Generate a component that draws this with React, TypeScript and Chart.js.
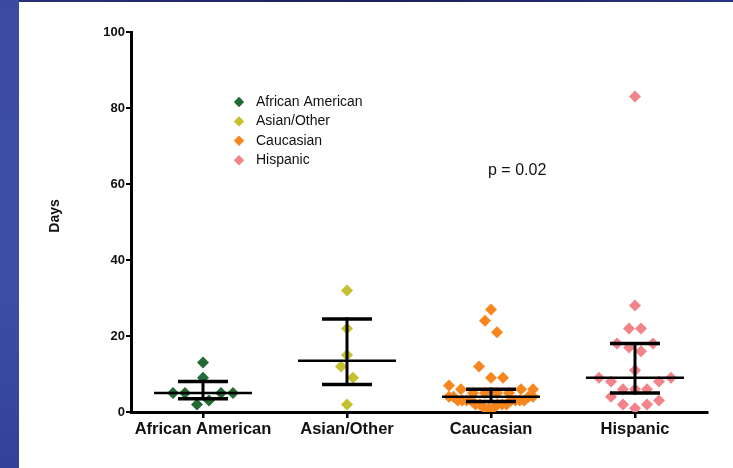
import { useEffect, useRef } from 'react';
import { Chart, registerables } from 'chart.js';

Chart.register(...registerables);

// ---------------- data ----------------
const categories = ['African American', 'Asian/Other', 'Caucasian', 'Hispanic'];

const africanAmerican = [13, 9, 2, 3, 5, 5, 5, 5];
const asianOther = [32, 22, 15, 12, 9, 2];
const caucasian = [
  27, 24, 21, 9, 12, 9, 5, 5, 5, 5, 6, 6, 7, 6,
  1, 1, 1, 2, 2, 2, 2, 2, 3, 3, 3, 3, 3, 3, 3, 3, 4, 4, 4, 4,
];
const hispanic = [83, 28, 22, 22, 17, 16, 18, 18, 11, 6, 6, 6, 8, 8, 9, 9, 1, 2, 2, 4, 3];

const yTickValues = [0, 20, 40, 60, 80, 100];
const yAxisTitle = 'Days';
const pValueText = 'p = 0.02';

const groups = [africanAmerican, asianOther, caucasian, hispanic];
const groupColors = ['#246a35', '#c4c02e', '#f7861f', '#f28489'];

// ---------------- styling / layout constants ----------------
const FONT = '"Liberation Sans", Arial, Helvetica, sans-serif';
const SLOT = 1 / 12; // horizontal symbol spacing in category units
const ROW_SPAN = 3.2; // vertical symbol height in days (row binning)
const MAX_SPREAD = 7; // max slots between outermost symbols in a row

function quantile(sorted: number[], p: number): number {
  const n = sorted.length;
  const pos = (n + 1) * p;
  const lo = Math.floor(pos);
  const frac = pos - lo;
  if (lo < 1) return sorted[0];
  if (lo >= n) return sorted[n - 1];
  return sorted[lo - 1] + frac * (sorted[lo] - sorted[lo - 1]);
}

// Prism-like column scatter: bin into rows, spread each row symmetrically
function swarmOffsets(values: number[]): number[] {
  const sorted = [...values].sort((a, b) => a - b);
  const rowStarts: number[] = [];
  let start = -Infinity;
  for (const v of sorted) {
    if (rowStarts.length === 0 || v >= start + ROW_SPAN) {
      start = v;
      rowStarts.push(v);
    }
  }
  const rows: number[][] = rowStarts.map(() => []);
  values.forEach((v, i) => {
    let r = 0;
    for (let k = 0; k < rowStarts.length; k++) if (v >= rowStarts[k]) r = k;
    rows[r].push(i);
  });
  const offsets = new Array(values.length).fill(0);
  rows.forEach((idx) => {
    const m = idx.length;
    const step = m > 1 ? Math.min(1, MAX_SPREAD / (m - 1)) : 1;
    idx.forEach((pi, k) => {
      let slot: number;
      if (m % 2 === 1) {
        slot = k === 0 ? 0 : Math.ceil(k / 2) * (k % 2 === 1 ? -1 : 1);
      } else {
        slot = (Math.floor(k / 2) + 0.5) * (k % 2 === 0 ? -1 : 1);
      }
      offsets[pi] = slot * step * SLOT;
    });
  });
  return offsets;
}

function drawDiamond(ctx: CanvasRenderingContext2D, x: number, y: number, r: number) {
  ctx.beginPath();
  ctx.moveTo(x, y - r);
  ctx.lineTo(x + r, y);
  ctx.lineTo(x, y + r);
  ctx.lineTo(x - r, y);
  ctx.closePath();
  ctx.fill();
}

const medianIqrPlugin = {
  id: 'medianIqr',
  afterDatasetsDraw(chart: any) {
    const { ctx, scales } = chart;
    const xs = scales.x;
    const ys = scales.y;
    ctx.save();
    ctx.strokeStyle = '#000';
    ctx.lineCap = 'butt';
    const line = (x1: number, y1: number, x2: number, y2: number, w: number) => {
      ctx.lineWidth = w;
      ctx.beginPath();
      ctx.moveTo(x1, y1);
      ctx.lineTo(x2, y2);
      ctx.stroke();
    };
    groups.forEach((vals, i) => {
      const s = [...vals].sort((a, b) => a - b);
      const q1 = quantile(s, 0.25);
      const med = quantile(s, 0.5);
      const q3 = quantile(s, 0.75);
      const cx = xs.getPixelForValue(i);
      const y1 = ys.getPixelForValue(q1);
      const y3 = ys.getPixelForValue(q3);
      const ym = ys.getPixelForValue(med);
      line(cx, y3 - 1.5, cx, y1 + 1.5, 3);
      line(cx - 25, y3, cx + 25, y3, 3.5);
      line(cx - 25, y1, cx + 25, y1, 3.5);
      line(cx - 49, ym, cx + 49, ym, 2.5);
    });
    ctx.restore();
  },
};

const annotationPlugin = {
  id: 'legendAndNote',
  afterDraw(chart: any) {
    const { ctx, chartArea } = chart;
    ctx.save();
    // legend
    ctx.font = `14px ${FONT}`;
    ctx.textBaseline = 'middle';
    ctx.textAlign = 'left';
    categories.forEach((name, i) => {
      const y = 102 + i * 19.4;
      ctx.fillStyle = groupColors[i];
      drawDiamond(ctx, 239, y, 5.2);
      ctx.fillStyle = '#111';
      ctx.fillText(name, 256, y);
    });
    // p value
    ctx.font = `16px ${FONT}`;
    ctx.fillStyle = '#111';
    ctx.fillText(pValueText, 488, 171);
    // y-axis title
    ctx.translate(55, (chartArea.top + chartArea.bottom) / 2 - 6);
    ctx.rotate(-Math.PI / 2);
    ctx.textAlign = 'center';
    ctx.font = `bold 14px ${FONT}`;
    ctx.fillText(yAxisTitle, 0, 0);
    ctx.restore();
  },
};

export default function App() {
  const canvasRef = useRef<HTMLCanvasElement | null>(null);

  useEffect(() => {
    const canvas = canvasRef.current;
    if (!canvas) return;
    const datasets = groups.map((vals, i) => {
      const offs = swarmOffsets(vals);
      return {
        label: categories[i],
        data: vals.map((v, k) => ({ x: i + offs[k], y: v })),
        backgroundColor: groupColors[i],
        borderColor: groupColors[i],
        pointStyle: 'rectRot' as const,
        pointRadius: 6,
        pointBorderWidth: 0,
        showLine: false,
      };
    });

    const chart = new Chart(canvas, {
      type: 'scatter',
      data: { datasets },
      plugins: [medianIqrPlugin, annotationPlugin],
      options: {
        animation: false,
        responsive: false,
        devicePixelRatio: 1,
        events: [],
        layout: { padding: { left: 0, top: 32, right: 26, bottom: 0 } },
        plugins: {
          legend: { display: false },
          tooltip: { enabled: false },
          title: { display: false },
        },
        scales: {
          x: {
            type: 'linear',
            min: -0.5,
            max: 3.5,
            afterBuildTicks: (scale: any) => {
              scale.ticks = categories.map((_, i) => ({ value: i }));
            },
            afterFit: (scale: any) => {
              scale.height = 56;
            },
            grid: {
              drawOnChartArea: false,
              drawTicks: true,
              tickLength: 6,
              color: '#000',
              lineWidth: 2.5,
            },
            border: { display: true, color: '#000', width: 3 },
            ticks: {
              autoSkip: false,
              maxRotation: 0,
              padding: 2,
              color: '#111',
              font: { family: FONT, size: 16.5, weight: 'bold' },
              callback: (value: any) => categories[Math.round(Number(value))] ?? '',
            },
          },
          y: {
            type: 'linear',
            min: 0,
            max: 100,
            afterBuildTicks: (scale: any) => {
              scale.ticks = yTickValues.map((v) => ({ value: v }));
            },
            afterFit: (scale: any) => {
              scale.width = 131;
            },
            grid: {
              drawOnChartArea: false,
              drawTicks: true,
              tickLength: 5,
              color: '#000',
              lineWidth: 2,
            },
            border: { display: true, color: '#000', width: 3 },
            ticks: {
              padding: 1,
              color: '#111',
              font: { family: FONT, size: 13, weight: 'bold' },
            },
            title: { display: false },
          },
        },
      } as any,
    });
    return () => chart.destroy();
  }, []);

  return (
    <div
      style={{
        position: 'fixed',
        left: 0,
        top: 0,
        width: 733,
        height: 468,
        background: '#ffffff',
        overflow: 'hidden',
      }}
    >
      <div
        style={{
          position: 'absolute',
          left: 0,
          top: 0,
          width: 19,
          height: 468,
          background: 'linear-gradient(180deg, #3c4aa2 0%, #3e4ea6 60%, #33419a 100%)',
        }}
      />
      <div
        style={{
          position: 'absolute',
          left: 19,
          top: 0,
          width: 714,
          height: 2,
          background: 'linear-gradient(90deg, #28307a 0%, #1c2158 50%, #2a3380 100%)',
        }}
      />
      <canvas
        ref={canvasRef}
        width={733}
        height={468}
        style={{ position: 'absolute', left: 0, top: 0 }}
      />
    </div>
  );
}
